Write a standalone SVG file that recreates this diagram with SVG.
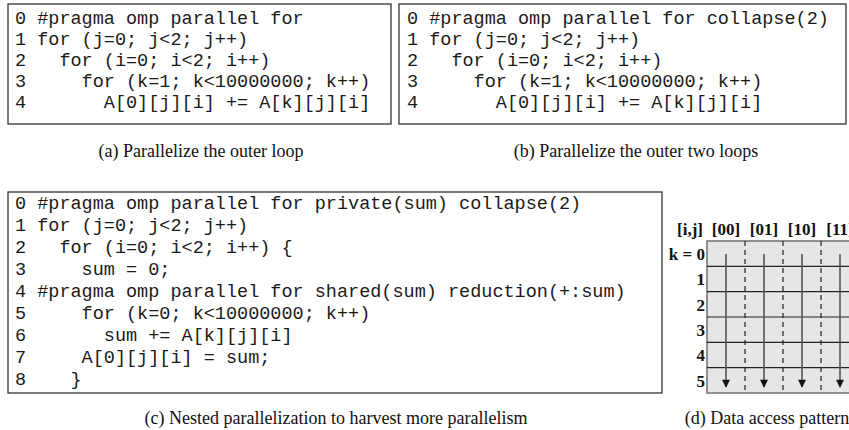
<svg xmlns="http://www.w3.org/2000/svg" width="849" height="430" viewBox="0 0 849 430">
<defs>
<style>
.box{fill:#fff;stroke:#333;stroke-width:1.3}
.code{font-family:"Liberation Mono","Courier New",monospace;font-size:18.5px;fill:#1a1a1a;white-space:pre}
.cap{font-family:"Liberation Serif","Times New Roman",serif;font-size:18px;fill:#111;text-anchor:middle}
.lbl{font-family:"Liberation Serif","Times New Roman",serif;font-size:17px;font-weight:bold;fill:#111}
.row{stroke:#222;stroke-width:1.2}
.col{stroke:#222;stroke-width:1.2;stroke-dasharray:5,4}
.arr{stroke:#555;stroke-width:1.6;marker-end:url(#ah)}
</style>
<marker id="ah" viewBox="0 0 10 10" refX="9" refY="5" markerWidth="9" markerHeight="8" markerUnits="userSpaceOnUse" orient="auto"><path d="M0,0 L10,5 L0,10 Z" fill="#111"/></marker>
</defs>
<g id="code-a">
<rect class="box" x="8" y="4" width="383" height="120"/>
<text class="code" x="15" y="24">0 #pragma omp parallel for</text>
<text class="code" x="15" y="45">1 for (j=0; j&lt;2; j++)</text>
<text class="code" x="15" y="66">2   for (i=0; i&lt;2; i++)</text>
<text class="code" x="15" y="87">3     for (k=1; k&lt;10000000; k++)</text>
<text class="code" x="15" y="108">4       A[0][j][i] += A[k][j][i]</text>
</g>
<g id="code-b">
<rect class="box" x="399" y="4" width="447" height="120"/>
<text class="code" x="407" y="24">0 #pragma omp parallel for collapse(2)</text>
<text class="code" x="407" y="45">1 for (j=0; j&lt;2; j++)</text>
<text class="code" x="407" y="66">2   for (i=0; i&lt;2; i++)</text>
<text class="code" x="407" y="87">3     for (k=1; k&lt;10000000; k++)</text>
<text class="code" x="407" y="108">4       A[0][j][i] += A[k][j][i]</text>
</g>
<g id="caption-a"><text class="cap" x="201" y="157">(a) Parallelize the outer loop</text></g>
<g id="caption-b"><text class="cap" x="636" y="157">(b) Parallelize the outer two loops</text></g>
<g id="code-c">
<rect class="box" x="8" y="192" width="654" height="201"/>
<text class="code" x="15" y="209">0 #pragma omp parallel for private(sum) collapse(2)</text>
<text class="code" x="15" y="231">1 for (j=0; j&lt;2; j++)</text>
<text class="code" x="15" y="253">2   for (i=0; i&lt;2; i++) {</text>
<text class="code" x="15" y="275">3     sum = 0;</text>
<text class="code" x="15" y="297">4 #pragma omp parallel for shared(sum) reduction(+:sum)</text>
<text class="code" x="15" y="319">5     for (k=0; k&lt;10000000; k++)</text>
<text class="code" x="15" y="341">6       sum += A[k][j][i]</text>
<text class="code" x="15" y="363">7     A[0][j][i] = sum;</text>
<text class="code" x="15" y="385">8    }</text>
</g>
<g id="caption-c"><text class="cap" x="336" y="424">(c) Nested parallelization to harvest more parallelism</text></g>
<g id="grid-d">
<rect x="707" y="241" width="152" height="152" fill="#e6e6e6" stroke="#777" stroke-width="1.6"/>
<line class="row" x1="707" y1="266.3" x2="849" y2="266.3"/>
<line class="row" x1="707" y1="291.7" x2="849" y2="291.7"/>
<line class="row" x1="707" y1="317" x2="849" y2="317"/>
<line class="row" x1="707" y1="342.3" x2="849" y2="342.3"/>
<line class="row" x1="707" y1="367.7" x2="849" y2="367.7"/>
<line class="col" x1="745" y1="241" x2="745" y2="393"/>
<line class="col" x1="783" y1="241" x2="783" y2="393"/>
<line class="col" x1="821" y1="241" x2="821" y2="393"/>
<text class="lbl" x="690" y="235" text-anchor="middle">[i,j]</text>
<text class="lbl" x="726" y="235" text-anchor="middle">[00]</text>
<text class="lbl" x="764" y="235" text-anchor="middle">[01]</text>
<text class="lbl" x="802" y="235" text-anchor="middle">[10]</text>
<text class="lbl" x="840" y="235" text-anchor="middle">[11]</text>
<text class="lbl" x="705" y="260" text-anchor="end">k = 0</text>
<text class="lbl" x="705" y="285" text-anchor="end">1</text>
<text class="lbl" x="705" y="311" text-anchor="end">2</text>
<text class="lbl" x="705" y="336" text-anchor="end">3</text>
<text class="lbl" x="705" y="361" text-anchor="end">4</text>
<text class="lbl" x="705" y="387" text-anchor="end">5</text>
</g>
<g id="connectors">
<line class="arr" x1="726" y1="254" x2="726" y2="387"/>
<line class="arr" x1="764" y1="254" x2="764" y2="387"/>
<line class="arr" x1="802" y1="254" x2="802" y2="387"/>
<line class="arr" x1="840" y1="254" x2="840" y2="387"/>
</g>
<g id="caption-d"><text class="cap" x="767" y="424">(d) Data access pattern</text></g>
</svg>
